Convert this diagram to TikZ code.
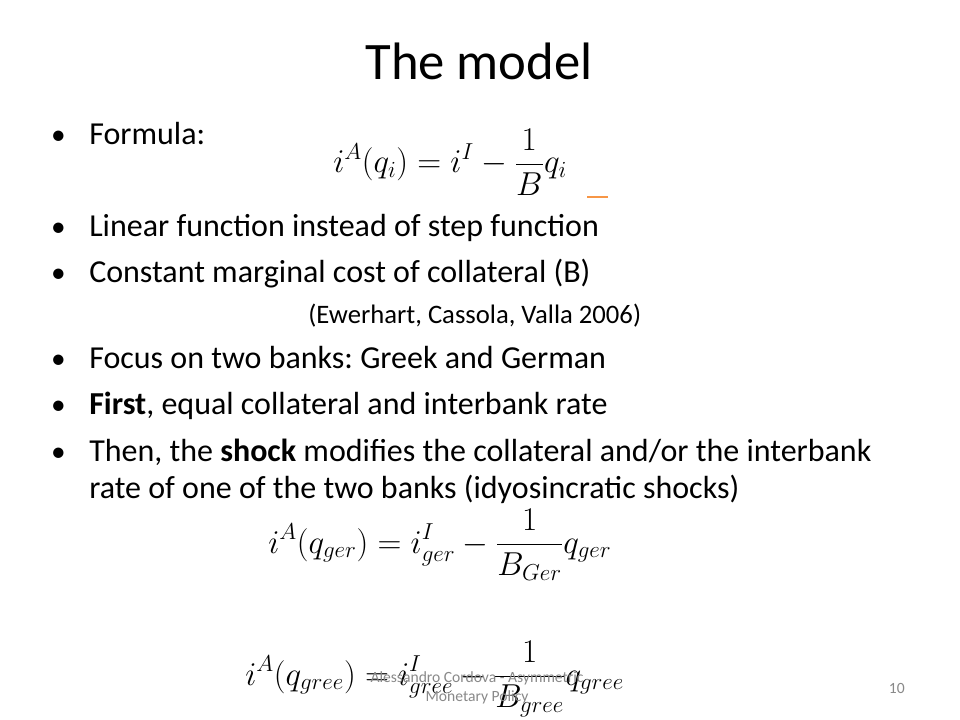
\documentclass[tikz,border=0pt]{standalone}
\usepackage{fontspec}
\setmainfont{Carlito}
\usetikzlibrary{positioning}
\DeclareMathSizes{25}{25}{19}{14}
\definecolor{footgray}{RGB}{137,137,137}
\definecolor{accent}{RGB}{247,150,70}
\frenchspacing
\tikzset{
    bodytext/.style={anchor=base west,inner sep=0pt,font=\fontsize{24}{29}\selectfont},
    bulletmark/.style={anchor=base,inner sep=0pt,font=\fontsize{22}{29}\selectfont},
    citetext/.style={anchor=base west,inner sep=0pt,font=\fontsize{20}{24}\selectfont},
    formula/.style={anchor=base west,inner sep=0pt,font=\fontsize{25}{30}\selectfont},
    footer/.style={anchor=base,inner sep=0pt,font=\fontsize{11.7}{14}\selectfont,text=footgray},
}

\begin{document}
\begin{tikzpicture}[x=0.75pt,y=-0.75pt]
\useasboundingbox[fill=white] (0,0) rectangle (960,720);
\node[anchor=base,inner sep=0pt,font=\fontsize{39.5}{46}\selectfont] (title) at (479,80) {The model};
% bullets
\foreach \y [count=\i] in {145,237,283,368,414,461}
    \node[bulletmark] (bullet\i) at (58.5,\y) {\textbullet};
\node[bodytext] (formulatext) at (89,145) {Formula:};
\node[bodytext] (linear) at (89,237) {Linear function instead of step function};
\node[bodytext] (constant) at (89,283) {Constant marginal cost of collateral (B)};
\node[citetext] (cite) at (308,323) {(Ewerhart, Cassola, Valla 2006)};
\node[bodytext] (focus) at (89,368) {Focus on two banks: Greek and German};
\node[bodytext] (first) at (89,414) {\textbf{First}, equal collateral and interbank rate};
\node[bodytext] (then) at (89,461) {Then, the \textbf{shock} modifies the collateral and/or the interbank};
\node[bodytext] (rate) at (89,498) {rate of one of the two banks (idyosincratic shocks)};
% formulas
\node[formula] (eqmain) at (333,173) {$\displaystyle i^{A}(q_i) = i^{I} - \frac{1}{B}q_i$};
\draw[accent,line width=1.2pt] (587,197) -- (608,197);
\node[formula] (eqger) at (268,553) {$\displaystyle i^{A}\bigl(q_{ger}\bigr) = i^{I}_{ger} - \frac{1}{B_{Ger}}q_{ger}$};
\node[formula] (eqgree) at (245,685) {$\displaystyle i^{A}\bigl(q_{gree}\bigr) = i^{I}_{gree} - \frac{1}{B_{gree}}q_{gree}$};
% footer
\node[footer] (footA) at (477,682) {Alessandro Cordova - Asymmetric};
\node[footer] (footB) at (477,701) {Monetary Policy};
\node[footer,anchor=base east] (pagenum) at (905,693) {10};
\end{tikzpicture}
\end{document}
